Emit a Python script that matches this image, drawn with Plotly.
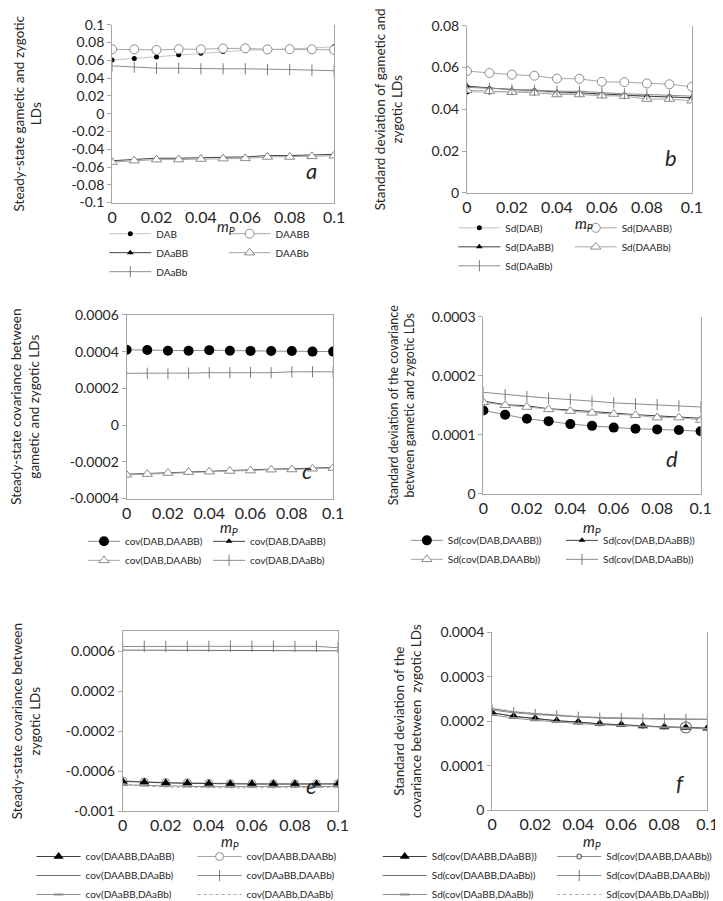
import plotly.graph_objects as go

W, H = 723, 901
FONT = "Lato, 'Open Sans', sans-serif"

# ---------------- data ----------------
mp = [0.0, 0.01, 0.02, 0.03, 0.04, 0.05, 0.06, 0.07, 0.08, 0.09, 0.1]
x_tickvals = [0, 0.02, 0.04, 0.06, 0.08, 0.1]
x_ticktext = ["0", "0.02", "0.04", "0.06", "0.08", "0.1"]

# panel a: steady-state LDs
a_DAB = [0.0604, 0.0622, 0.0637, 0.0662, 0.0680, 0.0699, 0.0714, 0.0721, 0.0728, 0.0739, 0.0754]
a_DAABB = [0.0725, 0.0724, 0.0717, 0.0726, 0.0724, 0.0734, 0.0735, 0.0723, 0.0726, 0.0724, 0.0717]
a_DAaBB = [-0.0529, -0.0512, -0.0501, -0.0501, -0.0493, -0.0490, -0.0486, -0.0471, -0.0471, -0.0464, -0.0457]
a_DAABb = [-0.0545, -0.0528, -0.0517, -0.0516, -0.0510, -0.0506, -0.0503, -0.0487, -0.0487, -0.0480, -0.0473]
a_DAaBb = [0.0538, 0.0523, 0.0512, 0.0512, 0.0505, 0.0505, 0.0505, 0.0497, 0.0497, 0.0490, 0.0483]
a_ytickvals = [-0.1, -0.08, -0.06, -0.04, -0.02, 0, 0.02, 0.04, 0.06, 0.08, 0.1]
a_yticktext = ["-0.1", "-0.08", "-0.06", "-0.04", "-0.02", "0", "0.02", "0.04", "0.06", "0.08", "0.1"]

# panel b: standard deviations of LDs
b_DAB = [0.0483, 0.0483, 0.0483, 0.0488, 0.0476, 0.0476, 0.0468, 0.0468, 0.0460, 0.0460, 0.0453]
b_DAABB = [0.0583, 0.0574, 0.0566, 0.0561, 0.0547, 0.0546, 0.0532, 0.0530, 0.0524, 0.0520, 0.0508]
b_DAaBB = [0.0511, 0.0502, 0.0494, 0.0491, 0.0483, 0.0479, 0.0472, 0.0468, 0.0463, 0.0460, 0.0455]
b_DAABb = [0.0491, 0.0487, 0.0482, 0.0479, 0.0471, 0.0471, 0.0465, 0.0463, 0.0449, 0.0449, 0.0441]
b_DAaBb = [0.0505, 0.0500, 0.0494, 0.0491, 0.0487, 0.0486, 0.0479, 0.0474, 0.0471, 0.0467, 0.0463]
b_ytickvals = [0, 0.02, 0.04, 0.06, 0.08]
b_yticktext = ["0", "0.02", "0.04", "0.06", "0.08"]

# panel c: covariances gametic/zygotic
c_DAB_DAABB = [0.000410, 0.000409, 0.000405, 0.000405, 0.000408, 0.000405, 0.000404, 0.000403, 0.000403, 0.000400, 0.000400]
c_DAB_DAaBB = [-0.000268, -0.000264, -0.000258, -0.000253, -0.000251, -0.000247, -0.000244, -0.000240, -0.000238, -0.000235, -0.000231]
c_DAB_DAABb = [-0.000271, -0.000267, -0.000261, -0.000256, -0.000254, -0.000250, -0.000248, -0.000243, -0.000242, -0.000238, -0.000234]
c_DAB_DAaBb = [0.000282, 0.000282, 0.000280, 0.000283, 0.000285, 0.000285, 0.000287, 0.000285, 0.000290, 0.000290, 0.000290]
c_ytickvals = [-0.0004, -0.0002, 0, 0.0002, 0.0004, 0.0006]
c_yticktext = ["-0.0004", "-0.0002", "0", "0.0002", "0.0004", "0.0006"]

# panel d: sd of covariances gametic/zygotic
d_DAB_DAABB = [0.000141, 0.000134, 0.000127, 0.000123, 0.000118, 0.000115, 0.000112, 0.000110, 0.000109, 0.000108, 0.000106]
d_DAB_DAaBB = [0.000157, 0.000151, 0.000149, 0.000144, 0.000142, 0.000139, 0.000136, 0.000134, 0.000132, 0.000130, 0.000128]
d_DAB_DAABb = [0.000155, 0.000150, 0.000147, 0.000143, 0.000140, 0.000137, 0.000135, 0.000133, 0.000129, 0.000129, 0.000125]
d_DAB_DAaBb = [0.000172, 0.000168, 0.000165, 0.000162, 0.000160, 0.000157, 0.000154, 0.000152, 0.000151, 0.000149, 0.000147]
d_ytickvals = [0, 0.0001, 0.0002, 0.0003]
d_yticktext = ["0", "0.0001", "0.0002", "0.0003"]

# panel e: covariances between zygotic LDs
e_AABB_AaBB = [-0.000703, -0.000712, -0.000718, -0.000722, -0.000727, -0.000729, -0.000730, -0.000730, -0.000730, -0.000731, -0.000729]
e_AABB_AABb = [-0.000698, -0.000708, -0.000714, -0.000718, -0.000722, -0.000725, -0.000726, -0.000727, -0.000727, -0.000727, -0.000725]
e_AABB_AaBb = [0.000612, 0.000612, 0.000612, 0.000612, 0.000612, 0.000612, 0.000612, 0.000606, 0.000605, 0.000605, 0.000605]
e_AaBB_AABb = [0.000648, 0.000650, 0.000650, 0.000650, 0.000650, 0.000650, 0.000650, 0.000650, 0.000650, 0.000650, 0.000635]
e_AaBB_AaBb = [-0.000738, -0.000745, -0.000750, -0.000752, -0.000755, -0.000756, -0.000757, -0.000757, -0.000756, -0.000755, -0.000752]
e_AABb_AaBb = [-0.000726, -0.000750, -0.000760, -0.000765, -0.000768, -0.000768, -0.000768, -0.000768, -0.000766, -0.000765, -0.000762]
e_ytickvals = [-0.001, -0.0006, -0.0002, 0.0002, 0.0006]
e_yticktext = ["-0.001", "-0.0006", "-0.0002", "0.0002", "0.0006"]

# panel f: sd of covariances between zygotic LDs
f_AABB_AaBB = [0.000219, 0.000211, 0.000206, 0.000201, 0.000198, 0.000194, 0.000192, 0.000189, 0.000187, 0.000186, 0.000184]
f_AABB_AABb = [0.000219, 0.000211, 0.000206, 0.000201, 0.000198, 0.000194, 0.000192, 0.000189, 0.000187, 0.000186, 0.000184]
f_AABB_AaBb = [0.000228, 0.000221, 0.000217, 0.000213, 0.000210, 0.000208, 0.000207, 0.000206, 0.000205, 0.000204, 0.000204]
f_AaBB_AABb = [0.000225, 0.000219, 0.000215, 0.000212, 0.000209, 0.000207, 0.000206, 0.000205, 0.000204, 0.000204, 0.000204]
f_AaBB_AaBb = [0.000214, 0.000207, 0.000202, 0.000198, 0.000195, 0.000192, 0.000190, 0.000188, 0.000186, 0.000184, 0.000183]
f_AABb_AaBb = [0.000230, 0.000222, 0.000218, 0.000214, 0.000211, 0.000209, 0.000207, 0.000206, 0.000205, 0.000205, 0.000205]
f_ytickvals = [0, 0.0001, 0.0002, 0.0003, 0.0004]
f_yticktext = ["0", "0.0001", "0.0002", "0.0003", "0.0004"]

# ---------------- styles ----------------
STY = {
    "dot_small": dict(mode="lines+markers", line=dict(color="#c4c4c4", width=1),
                      marker=dict(symbol="circle", size=5, color="black")),
    "circle_open": dict(mode="lines+markers", line=dict(color="#a6a6a6", width=1),
                        marker=dict(symbol="circle", size=9, color="white", line=dict(color="#8c8c8c", width=1))),
    "circle_open_s": dict(mode="lines+markers", line=dict(color="#a6a6a6", width=1),
                          marker=dict(symbol="circle", size=8, color="white", line=dict(color="#8c8c8c", width=1))),
    "circle_open_one": dict(mode="lines+markers", line=dict(color="#8c8c8c", width=1),
                            marker=dict(symbol="circle", size=[4, 4, 4, 4, 4, 4, 4, 4, 4, 11, 4],
                                        color="white", line=dict(color="#404040", width=1.2))),
    "tri_fill": dict(mode="lines+markers", line=dict(color="#404040", width=1),
                     marker=dict(symbol="triangle-up", size=6, color="black")),
    "tri_fill_big": dict(mode="lines+markers", line=dict(color="#404040", width=1),
                         marker=dict(symbol="triangle-up", size=9, color="black")),
    "tri_open": dict(mode="lines+markers", line=dict(color="#a6a6a6", width=1),
                     marker=dict(symbol="triangle-up", size=9, color="white", line=dict(color="#8c8c8c", width=1))),
    "plus": dict(mode="lines+markers", line=dict(color="#8c8c8c", width=1),
                 marker=dict(symbol="line-ns", size=8, line=dict(color="#7a7a7a", width=1))),
    "circle_big": dict(mode="lines+markers", line=dict(color="#8c8c8c", width=1),
                       marker=dict(symbol="circle", size=10, color="black")),
    "plain": dict(mode="lines", line=dict(color="#6e6e6e", width=1)),
    "dash_mk": dict(mode="lines+markers", line=dict(color="#8c8c8c", width=1),
                    marker=dict(symbol="line-ew", size=7, line=dict(color="#8c8c8c", width=2))),
    "dotted": dict(mode="lines", line=dict(color="#a6a6a6", width=1, dash="dot")),
}

# ---------------- layout geometry (px) ----------------
BOX = {
    1: (96, 325, 8, 190),
    2: (462, 694, 9, 180),
    3: (111, 324, 305, 493),
    4: (479, 703, 307, 488),
    5: (107, 329, 629, 813),
    6: (488, 710, 630, 812),
}
YRANGE = {1: [-0.1, 0.1], 2: [0, 0.08], 3: [-0.0004, 0.0006], 4: [0, 0.0003],
          5: [-0.001, 0.0008], 6: [0, 0.0004]}
YTICKS = {1: (a_ytickvals, a_yticktext), 2: (b_ytickvals, b_yticktext), 3: (c_ytickvals, c_yticktext),
          4: (d_ytickvals, d_yticktext), 5: (e_ytickvals, e_yticktext), 6: (f_ytickvals, f_yticktext)}
YTITLE = {
    1: "Steady-state gametic and zygotic<br>LDs",
    2: "Standard deviation of gametic and<br>zygotic LDs",
    3: "Steady-state covariance between<br>gametic and zygotic LDs",
    4: "Standard deviation of the covariance<br>between gametic and zygotic LDs",
    5: "Steady-state covariance between<br>zygotic LDs",
    6: "Standard deviation of the<br>covariance between  zygotic LDs",
}
YTITLE_SIZE = {1: 13.5, 2: 13.5, 3: 13.5, 4: 12.5, 5: 13.5, 6: 13.5}
YTITLE_STANDOFF = {1: 26, 2: 25, 3: 35, 4: 14, 5: 22, 6: 15}
LETTER = {1: ("a", 0.934, 0.093), 2: ("b", 0.944, 0.117), 3: ("c", 0.906, 0.07),
          4: ("d", 0.906, 0.11), 5: ("e", 0.914, 0.054), 6: ("f", 0.905, 0.066)}
MIRROR_TOP = {1: False, 2: False, 3: True, 4: False, 5: True, 6: False}
# x-axis label centre (px)
MPPOS = {1: (213, 215), 2: (583, 212), 3: (217, 523), 4: (591, 523), 5: (218, 845), 6: (591, 845)}

# legend columns: (text-left px, legend-top px, item width)
LEG = {
    1: [(150, 207, 42), (273, 207, 42)],
    2: [(510, 201, 42), (630, 201, 42)],
    3: [(118, 522, 32), (247, 522, 32)],
    4: [(451, 521, 32), (611, 521, 32)],
    5: [(77, 845, 44), (243, 845, 44)],
    6: [(434, 845, 44), (614, 845, 44)],
}

SERIES = {
    1: [("DAB", a_DAB, "dot_small", 0), ("DAABB", a_DAABB, "circle_open", 1),
        ("DAaBB", a_DAaBB, "tri_fill", 0), ("DAABb", a_DAABb, "tri_open", 1),
        ("DAaBb", a_DAaBb, "plus", 0)],
    2: [("Sd(DAB)", b_DAB, "dot_small", 0), ("Sd(DAABB)", b_DAABB, "circle_open", 1),
        ("Sd(DAaBB)", b_DAaBB, "tri_fill", 0), ("Sd(DAABb)", b_DAABb, "tri_open", 1),
        ("Sd(DAaBb)", b_DAaBb, "plus", 0)],
    3: [("cov(DAB,DAABB)", c_DAB_DAABB, "circle_big", 0), ("cov(DAB,DAaBB)", c_DAB_DAaBB, "tri_fill", 1),
        ("cov(DAB,DAABb)", c_DAB_DAABb, "tri_open", 0), ("cov(DAB,DAaBb)", c_DAB_DAaBb, "plus", 1)],
    4: [("Sd(cov(DAB,DAABB))", d_DAB_DAABB, "circle_big", 0), ("Sd(cov(DAB,DAaBB))", d_DAB_DAaBB, "tri_fill", 1),
        ("Sd(cov(DAB,DAABb))", d_DAB_DAABb, "tri_open", 0), ("Sd(cov(DAB,DAaBb))", d_DAB_DAaBb, "plus", 1)],
    5: [("cov(DAABB,DAABb)", e_AABB_AABb, "circle_open_s", 1), ("cov(DAABB,DAaBB)", e_AABB_AaBB, "tri_fill_big", 0),
        ("cov(DAABB,DAaBb)", e_AABB_AaBb, "plain", 0), ("cov(DAaBB,DAABb)", e_AaBB_AABb, "plus", 1),
        ("cov(DAaBB,DAaBb)", e_AaBB_AaBb, "dash_mk", 0), ("cov(DAABb,DAaBb)", e_AABb_AaBb, "dotted", 1)],
    6: [("Sd(cov(DAABB,DAABb))", f_AABB_AABb, "circle_open_one", 1), ("Sd(cov(DAABB,DAaBB))", f_AABB_AaBB, "tri_fill_big", 0),
        ("Sd(cov(DAABB,DAaBb))", f_AABB_AaBb, "plain", 0), ("Sd(cov(DAaBB,DAABb))", f_AaBB_AABb, "plus", 1),
        ("Sd(cov(DAaBB,DAaBb))", f_AaBB_AaBb, "dash_mk", 0), ("Sd(cov(DAABb,DAaBb))", f_AABb_AaBb, "dotted", 1)],
}
ORDER = {
    5: ["cov(DAABB,DAaBB)", "cov(DAABB,DAABb)", "cov(DAABB,DAaBb)", "cov(DAaBB,DAABb)", "cov(DAaBB,DAaBb)", "cov(DAABb,DAaBb)"],
    6: ["Sd(cov(DAABB,DAaBB))", "Sd(cov(DAABB,DAABb))", "Sd(cov(DAABB,DAaBb))", "Sd(cov(DAaBB,DAABb))",
        "Sd(cov(DAaBB,DAaBb))", "Sd(cov(DAABb,DAaBb))"],
}


def px_x(p):
    return p / W


def px_y(p):
    return 1 - p / H


fig = go.Figure()
layout = dict(width=W, height=H, margin=dict(l=0, r=0, t=0, b=0),
              paper_bgcolor="white", plot_bgcolor="white",
              font=dict(family=FONT, color="#262626"), annotations=[])

leg_idx = 0
for p in range(1, 7):
    l, r, t, b = BOX[p]
    xa = "xaxis" if p == 1 else f"xaxis{p}"
    ya = "yaxis" if p == 1 else f"yaxis{p}"
    xref = "x" if p == 1 else f"x{p}"
    yref = "y" if p == 1 else f"y{p}"
    layout[xa] = dict(domain=[px_x(l), px_x(r)], anchor=yref, range=[0, 0.1],
                      tickvals=x_tickvals, ticktext=x_ticktext,
                      showline=True, linecolor="#a6a6a6", linewidth=1, mirror=MIRROR_TOP[p],
                      ticks="",
                      showgrid=False, zeroline=False,
                      tickfont=dict(size=16, color="#262626"))
    yv, yt = YTICKS[p]
    layout[ya] = dict(domain=[px_y(b), px_y(t)], anchor=xref, range=YRANGE[p],
                      tickvals=yv, ticktext=yt,
                      showline=True, linecolor="#a6a6a6", linewidth=1, mirror=True,
                      ticks="outside", ticklen=4, tickcolor="#a6a6a6",
                      showgrid=False, zeroline=False,
                      tickfont=dict(size=14, color="#262626"),
                      title=dict(text=YTITLE[p], font=dict(size=YTITLE_SIZE[p]), standoff=YTITLE_STANDOFF[p]))
    letter, lx, ly = LETTER[p]
    layout["annotations"].append(dict(text=f"<i>{letter}</i>", xref=f"{xref} domain", yref=f"{yref} domain",
                                      x=lx, y=ly, showarrow=False, font=dict(size=22, color="#262626")))
    mx, my = MPPOS[p]
    layout["annotations"].append(dict(text="<i>m</i><sub><i>P</i></sub>", xref="paper", yref="paper",
                                      x=px_x(mx), y=px_y(my), xanchor="center", yanchor="middle",
                                      showarrow=False, font=dict(size=15, color="#262626")))
    names = {}
    for col in (0, 1):
        leg_idx += 1
        key = "legend" if leg_idx == 1 else f"legend{leg_idx}"
        names[col] = key
        tx, ty, iw = LEG[p][col]
        layout[key] = dict(x=px_x(tx - iw - 20), y=px_y(ty), xanchor="left", yanchor="top",
                           orientation="v", bgcolor="rgba(0,0,0,0)", borderwidth=0, itemwidth=iw,
                           font=dict(size=10, color="#262626"), tracegroupgap=0, traceorder="normal")
    series = SERIES[p]
    order = ORDER.get(p, [s[0] for s in series])
    rank = {n: i for i, n in enumerate(order)}
    for name, vals, sty, col in series:
        fig.add_trace(go.Scatter(x=mp, y=vals, name=name, xaxis=xref, yaxis=yref,
                                 legend=names[col], legendrank=rank[name] + 1, showlegend=True,
                                 **STY[sty]))

fig.update_layout(**layout)
fig.write_html("out.html")
